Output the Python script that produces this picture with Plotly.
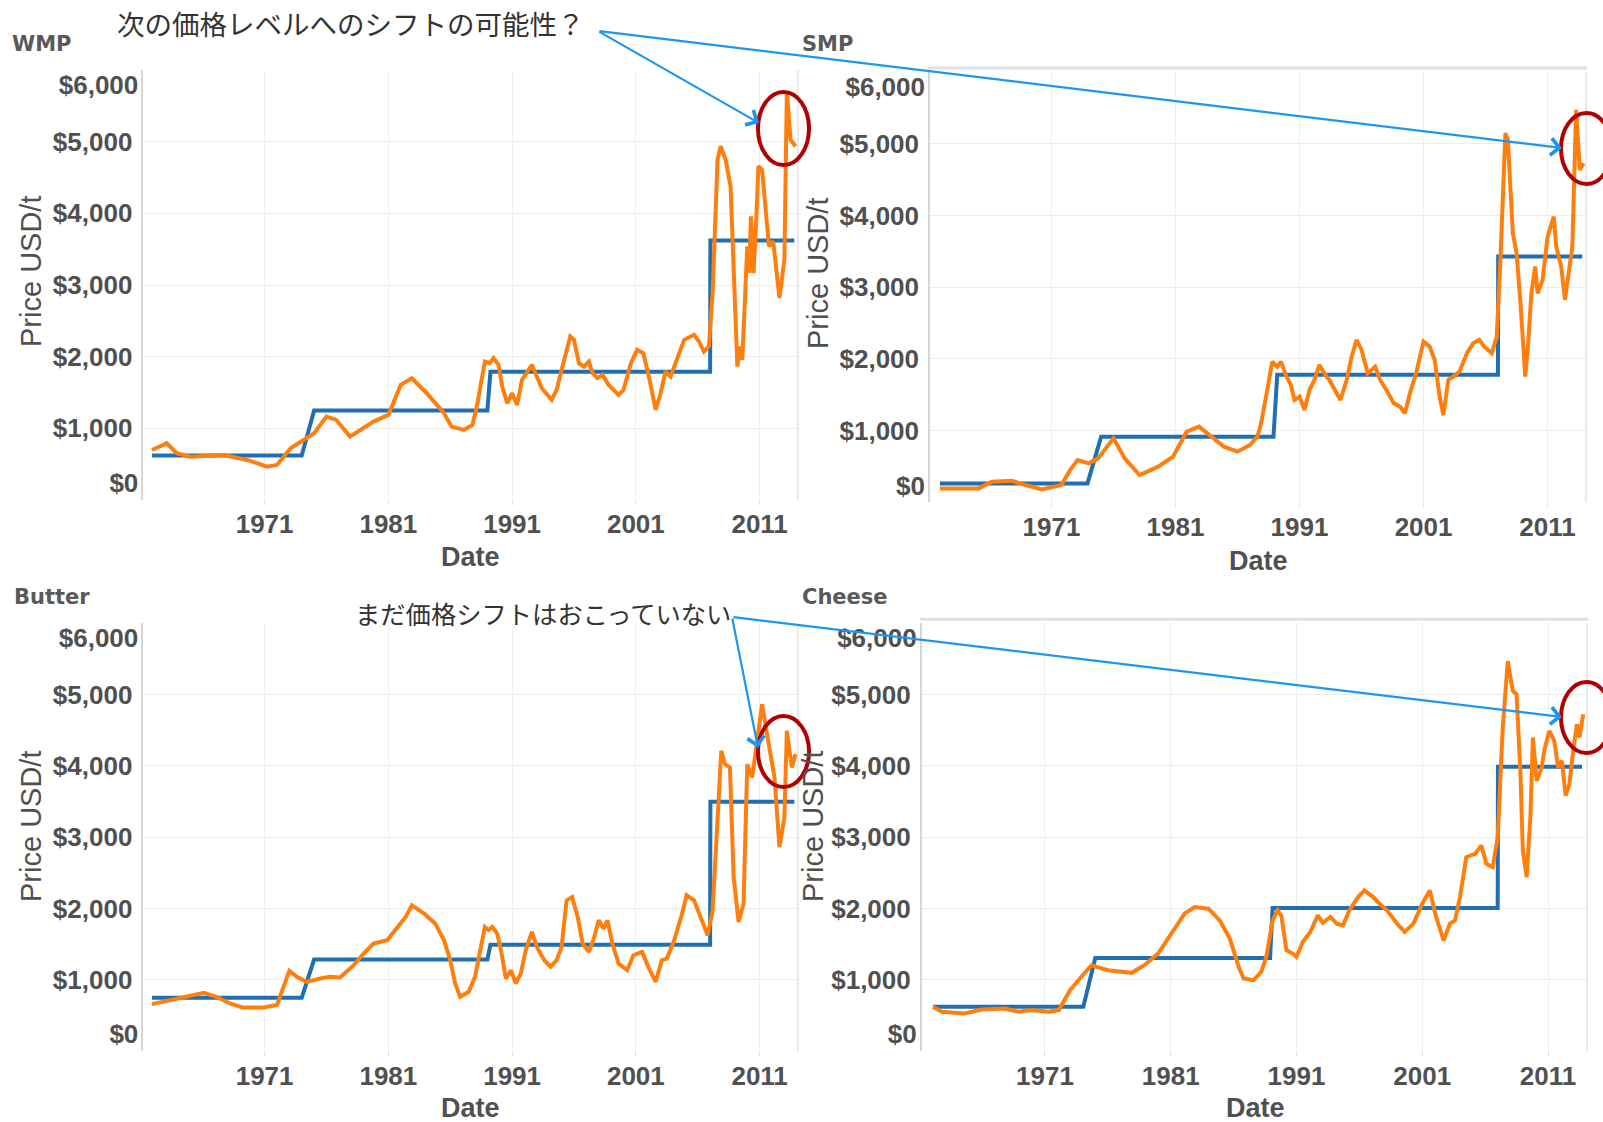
import plotly.graph_objects as go

W, H = 1603, 1122

# ---------------- data (year as decimal, price in USD/t) ----------------
wmp_years = [1961.9, 1963.1, 1963.9, 1965.0, 1967.7, 1969.6, 1971.2, 1972.0, 1973.1, 1975.0,
             1976.0, 1976.8, 1977.9, 1979.8, 1981.0, 1982.0, 1982.9, 1984.1, 1985.5, 1986.1,
             1987.1, 1987.8, 1988.2, 1988.8, 1989.2, 1989.5, 1989.9, 1990.2, 1990.6, 1991.0,
             1991.4, 1991.8, 1992.6, 1993.0, 1993.4, 1994.2, 1994.6, 1995.0, 1995.7, 1996.0,
             1996.4, 1996.8, 1997.2, 1997.5, 1997.9, 1998.3, 1998.8, 1999.6, 2000.0, 2000.6,
             2001.1, 2001.6, 2002.05, 2002.6, 2003.0, 2003.4, 2003.8, 2004.3, 2004.9, 2005.7,
             2006.1, 2006.5, 2006.9, 2007.2, 2007.6, 2007.85, 2008.25, 2008.65, 2008.9, 2009.2,
             2009.45, 2009.6, 2010.0, 2010.15, 2010.3, 2010.5, 2010.65, 2010.9, 2011.2, 2011.75,
             2012.1, 2012.6, 2013.0, 2013.2, 2013.5, 2013.9]
wmp_price = [698, 792, 652, 605, 628, 559, 466, 489, 722, 931,
             1164, 1117, 885, 1094, 1187, 1606, 1699, 1490, 1211, 1024,
             978, 1048, 1350, 1932, 1909, 1979, 1886, 1583, 1350, 1490,
             1327, 1676, 1886, 1723, 1560, 1397, 1536, 1816, 2281, 2235,
             1909, 1862, 1932, 1769, 1699, 1746, 1606, 1467, 1536, 1909,
             2095, 2049, 1723, 1257, 1490, 1793, 1723, 1955, 2235, 2305,
             2212, 2072, 2142, 2887, 4749, 4935, 4749, 4377, 3259, 1862,
             2142, 1956, 3539, 3170, 3958, 3166, 3600, 4656, 4609, 3539,
             3608, 2817, 3352, 5703, 5029, 4935]
wmp_level_years = [1961.9, 1974.0, 1975.0, 1989.0, 1989.25, 2007.0, 2007.02, 2013.8]
wmp_level = [620, 620, 1250, 1250, 1790, 1790, 3620, 3620]

smp_years = [1962.0, 1963.5, 1965.1, 1966.2, 1967.8, 1968.9, 1970.2, 1971.8, 1972.5, 1973.1,
             1974.0, 1974.75, 1976.0, 1976.9, 1978.1, 1979.6, 1980.8, 1981.9, 1982.9, 1983.9,
             1984.9, 1986.0, 1987.0, 1987.6, 1987.9, 1988.4, 1988.8, 1989.2, 1989.5, 1989.9,
             1990.3, 1990.6, 1991.0, 1991.4, 1991.8, 1992.2, 1992.6, 1993.0, 1993.4, 1994.3,
             1994.8, 1995.2, 1995.6, 1996.0, 1996.5, 1997.1, 1997.5, 1998.0, 1998.6, 1999.1,
             1999.5, 1999.9, 2000.4, 2001.0, 2001.5, 2001.9, 2002.3, 2002.6, 2003.0, 2003.4,
             2003.9, 2004.5, 2005.0, 2005.5, 2005.9, 2006.5, 2006.9, 2007.2, 2007.6, 2007.8,
             2008.2, 2008.5, 2008.8, 2009.2, 2009.4, 2009.7, 2010.0, 2010.2, 2010.6, 2011.0,
             2011.5, 2011.7, 2012.1, 2012.4, 2012.8, 2013.0, 2013.3, 2013.6, 2013.9]
smp_price = [195, 195, 195, 288, 302, 242, 181, 242, 451, 590,
             544, 614, 893, 614, 381, 498, 637, 986, 1056, 916,
             777, 707, 800, 916, 1102, 1567, 1962, 1893, 1962, 1776,
             1637, 1428, 1474, 1288, 1567, 1707, 1916, 1800, 1707, 1428,
             1707, 2032, 2265, 2125, 1800, 1893, 1707, 1567, 1381, 1335,
             1242, 1520, 1800, 2241, 2170, 1986, 1474, 1218, 1707, 1753,
             1823, 2079, 2218, 2265, 2170, 2079, 2311, 3381, 5148, 5055,
             3753, 3474, 2823, 1753, 2125, 2916, 3288, 2916, 3100, 3706,
             3985, 3567, 3288, 2823, 3381, 3567, 5473, 4636, 4729]
smp_level_years = [1962.0, 1973.9, 1975.0, 1988.9, 1989.2, 2007.0, 2007.02, 2013.8]
smp_level = [265, 265, 916, 916, 1780, 1780, 3427, 3427]

butter_years = [1961.9, 1963.1, 1964.5, 1966.1, 1967.1, 1968.2, 1969.2, 1970.9, 1972.0, 1972.5,
                1973.0, 1973.6, 1974.4, 1975.5, 1976.3, 1977.1, 1978.2, 1979.0, 1979.8, 1980.9,
                1981.7, 1982.4, 1982.9, 1983.9, 1984.8, 1985.5, 1986.0, 1986.4, 1986.8, 1987.5,
                1988.0, 1988.4, 1988.8, 1989.1, 1989.4, 1989.8, 1990.1, 1990.5, 1990.9, 1991.3,
                1991.7, 1992.1, 1992.6, 1993.0, 1993.6, 1994.1, 1994.6, 1995.0, 1995.4, 1995.85,
                1996.3, 1996.7, 1997.2, 1997.6, 1998.0, 1998.4, 1998.7, 1999.1, 1999.6, 2000.3,
                2000.8, 2001.5, 2002.0, 2002.6, 2003.1, 2003.5, 2004.1, 2004.7, 2005.1, 2005.7,
                2006.2, 2006.8, 2007.2, 2007.6, 2007.9, 2008.2, 2008.6, 2008.9, 2009.3, 2009.7,
                2010.0, 2010.4, 2010.8, 2011.2, 2011.6, 2012.2, 2012.6, 2013.0, 2013.2, 2013.6,
                2013.9]
butter_price = [662, 708, 764, 820, 764, 671, 615, 615, 648, 904,
                1128, 1044, 974, 1020, 1044, 1035, 1207, 1370, 1510, 1556,
                1720, 1883, 2046, 1929, 1789, 1556, 1277, 951, 764, 834,
                1044, 1417, 1743, 1700, 1743, 1650, 1417, 1020, 1137, 951,
                1090, 1417, 1673, 1463, 1277, 1184, 1277, 1463, 2116, 2162,
                1883, 1510, 1393, 1580, 1836, 1720, 1836, 1510, 1230, 1137,
                1347, 1393, 1184, 974, 1277, 1300, 1556, 1906, 2186, 2116,
                1883, 1626, 1976, 3374, 4213, 4026, 3980, 2442, 1813, 2069,
                4026, 3840, 4352, 4865, 4445, 3840, 2861, 3281, 4492, 3980,
                4166]
butter_level_years = [1961.9, 1974.0, 1975.0, 1989.0, 1989.25, 2007.0, 2007.02, 2013.8]
butter_level = [750, 750, 1286, 1286, 1495, 1495, 3500, 3500]

cheese_years = [1962.1, 1962.8, 1964.6, 1966.0, 1967.8, 1968.9, 1969.9, 1971.3, 1972.1, 1973.0,
                1973.9, 1974.7, 1975.1, 1976.0, 1977.9, 1978.9, 1980.0, 1981.1, 1982.1, 1982.9,
                1984.0, 1984.9, 1985.7, 1986.4, 1986.8, 1987.6, 1988.2, 1988.6, 1989.1, 1989.5,
                1989.8, 1990.2, 1990.7, 1991.0, 1991.5, 1992.1, 1992.7, 1993.1, 1993.7, 1994.2,
                1994.7, 1995.2, 1995.9, 1996.4, 1997.1, 1997.6, 1998.2, 1999.0, 1999.6, 2000.3,
                2001.0, 2001.6, 2002.1, 2002.7, 2003.2, 2003.6, 2004.0, 2004.5, 2005.2, 2005.7,
                2006.1, 2006.6, 2007.0, 2007.4, 2007.8, 2008.2, 2008.5, 2008.8, 2009.0, 2009.3,
                2009.6, 2009.8, 2010.1, 2010.5, 2010.7, 2011.1, 2011.5, 2011.8, 2012.1, 2012.4,
                2012.7, 2013.0, 2013.3, 2013.5, 2013.8]
cheese_price = [624, 555, 531, 587, 601, 555, 578, 555, 578, 857,
                1044, 1207, 1184, 1137, 1100, 1207, 1370, 1650, 1929, 2022,
                1999, 1836, 1580, 1184, 1020, 997, 1114, 1323, 1836, 1976,
                1900, 1417, 1370, 1323, 1533, 1673, 1906, 1800, 1883, 1790,
                1766, 1976, 2162, 2255, 2162, 2069, 1976, 1789, 1673, 1789,
                2069, 2255, 1883, 1556, 1789, 1836, 2162, 2721, 2768, 2884,
                2628, 2582, 3001, 4539, 5471, 5051, 5005, 3933, 2815, 2442,
                3281, 4399, 3793, 3980, 4213, 4492, 4352, 3980, 4073, 3583,
                3747, 4213, 4585, 4399, 4725]
cheese_level_years = [1962.1, 1974.05, 1975.0, 1988.9, 1989.1, 2007.0, 2007.02, 2013.7]
cheese_level = [624, 624, 1309, 1309, 2008, 2008, 3989, 3989]

panel_names = ["WMP", "SMP", "Butter", "Cheese"]
year_ticks = [1971, 1981, 1991, 2001, 2011]
year_tick_labels = ["1971", "1981", "1991", "2001", "2011"]
price_ticks = [0, 1000, 2000, 3000, 4000, 5000, 6000]
price_tick_labels = ["$0", "$1,000", "$2,000", "$3,000", "$4,000", "$5,000", "$6,000"]
y_title = "Price USD/t"
x_title = "Date"
note_shift = "次の価格レベルへのシフトの可能性？"
note_noshift = "まだ価格シフトはおこっていない"

series = [
    (wmp_years, wmp_price, wmp_level_years, wmp_level),
    (smp_years, smp_price, smp_level_years, smp_level),
    (butter_years, butter_price, butter_level_years, butter_level),
    (cheese_years, cheese_price, cheese_level_years, cheese_level),
]

# ---------------- layout geometry (pixels) ----------------
def px_x(x):
    return x / W

def px_y(y):
    return 1 - y / H

# (left, right, top, bottom) of each plot area in pixels
boxes = [
    (143.3, 798.0, 70.0, 500.0),
    (930.0, 1586.0, 72.0, 502.4),
    (143.3, 798.0, 623.3, 1051.3),
    (921.7, 1587.0, 623.3, 1051.3),
]

ORANGE = "#FF7F0E"
BLUE = "#1F6FB2"
GREY_TXT = "#505050"
TICK_FONT = dict(family="Liberation Sans, Arial, sans-serif", size=26, color=GREY_TXT, weight="bold")
Y_RANGE = [0, 6000]

fig = go.Figure()
layout = dict(
    width=W, height=H,
    margin=dict(l=0, r=0, t=0, b=0, autoexpand=False),
    paper_bgcolor="white", plot_bgcolor="white",
    showlegend=False,
    annotations=[], shapes=[],
)

# inner tick labels on the main axis; the edge labels ($0 / $6,000) sit slightly inside
inner_text = [t if 0 < v < 6000 else "" for v, t in zip(price_ticks, price_tick_labels)]

for i, ((xs, ys, lx, ly), (l, r, t, b)) in enumerate(zip(series, boxes)):
    sfx = "" if i == 0 else str(i + 1)
    xa, ya = "x" + sfx, "y" + sfx
    ya_lo, ya_hi = "y" + str(i + 5), "y" + str(i + 9)
    fig.add_trace(go.Scatter(x=lx, y=ly, mode="lines", line=dict(color=BLUE, width=4),
                             xaxis=xa, yaxis=ya, hoverinfo="skip"))
    fig.add_trace(go.Scatter(x=xs, y=ys, mode="lines", line=dict(color=ORANGE, width=4),
                             xaxis=xa, yaxis=ya, hoverinfo="skip"))
    # invisible carriers for the edge-label axes
    for yy in (ya_lo, ya_hi):
        fig.add_trace(go.Scatter(x=[xs[0]], y=[ys[0]], mode="lines", opacity=0,
                                 xaxis=xa, yaxis=yy, hoverinfo="skip"))
    layout["xaxis" + sfx] = dict(
        domain=[px_x(l), px_x(r)], anchor=ya, range=[1961.2, 2014.1],
        tickvals=year_ticks, ticktext=year_tick_labels, tickfont=TICK_FONT,
        showgrid=True, gridcolor="#efefef", gridwidth=1, zeroline=False,
        showline=False, ticks="outside", ticklen=4, tickcolor="#dddddd",
        ticklabelstandoff=-3, automargin=False,
    )
    layout["yaxis" + sfx] = dict(
        domain=[px_y(b), px_y(t)], anchor=xa, range=Y_RANGE,
        tickvals=price_ticks, ticktext=inner_text, tickfont=TICK_FONT,
        showgrid=True, gridcolor="#ececec", gridwidth=1, zeroline=False,
        showline=True, linecolor="#d6d6d6", linewidth=1.5, ticks="", ticklabelstandoff=4,
        automargin=False,
    )
    edge_common = dict(anchor=xa, overlaying=ya, side="left", range=Y_RANGE,
                       tickfont=TICK_FONT, showgrid=False, zeroline=False, showline=False,
                       ticks="", ticklabelstandoff=4, automargin=False)
    layout["yaxis" + str(i + 5)] = dict(edge_common, tickvals=[price_ticks[0]],
                                        ticktext=[price_tick_labels[0]], ticklabelshift=-17)
    layout["yaxis" + str(i + 9)] = dict(edge_common, tickvals=[price_ticks[-1]],
                                        ticktext=[price_tick_labels[-1]], ticklabelshift=15)
    # right border of the pane
    layout["shapes"].append(dict(type="line", xref="paper", yref="paper",
                                 x0=px_x(r), x1=px_x(r), y0=px_y(b), y1=px_y(t),
                                 line=dict(color="#e2e2e2", width=1.5)))

# top pane borders on the right-hand panels
for (l, r, t, b) in (boxes[1], boxes[3]):
    layout["shapes"].append(dict(type="line", xref="paper", yref="paper",
                                 x0=px_x(l - 2), x1=px_x(r + 1), y0=px_y(t - 4), y1=px_y(t - 4),
                                 line=dict(color="#e0e0e0", width=3)))

# panel titles
title_pos = [(10, 44), (800, 44), (12, 597), (800, 597)]
for name, (x, y) in zip(panel_names, title_pos):
    layout["annotations"].append(dict(
        text=name, xref="paper", yref="paper", x=px_x(x), y=px_y(y),
        xanchor="left", yanchor="middle", showarrow=False,
        font=dict(family="DejaVu Sans, sans-serif", size=21, color="#595959", weight="bold")))

# axis titles
ytitle_pos = [(31, 272), (818, 274), (31, 827), (813, 827)]
for (x, y) in ytitle_pos:
    layout["annotations"].append(dict(
        text=y_title, xref="paper", yref="paper", x=px_x(x), y=px_y(y),
        xanchor="center", yanchor="middle", textangle=-90, showarrow=False,
        font=dict(family="Liberation Sans, Arial, sans-serif", size=29, color=GREY_TXT)))
xtitle_pos = [(470, 557), (1258, 561), (470, 1108), (1255, 1108)]
for (x, y) in xtitle_pos:
    layout["annotations"].append(dict(
        text=x_title, xref="paper", yref="paper", x=px_x(x), y=px_y(y),
        xanchor="center", yanchor="middle", showarrow=False,
        font=dict(family="Liberation Sans, Arial, sans-serif", size=27, color=GREY_TXT, weight="bold")))

# Japanese notes
JP_FONT = "Noto Sans CJK JP, sans-serif"
layout["annotations"].append(dict(
    text=note_shift, xref="paper", yref="paper", x=px_x(351), y=px_y(23),
    xanchor="center", yanchor="middle", showarrow=False,
    font=dict(family=JP_FONT, size=27.5, color="#333333")))
layout["annotations"].append(dict(
    text=note_noshift, xref="paper", yref="paper", x=px_x(543), y=px_y(613),
    xanchor="center", yanchor="middle", showarrow=False,
    font=dict(family=JP_FONT, size=25.3, color="#333333")))

# arrows (start -> tip, pixels)
ARROW = "#1E96F0"
arrows = [((598, 31), (759, 123)), ((598, 31), (1562, 148)),
          ((732, 617), (758, 748)), ((732, 617), (1562, 717))]
for (sx, sy), (tx, ty) in arrows:
    layout["annotations"].append(dict(
        text="", xref="paper", yref="paper", x=px_x(tx), y=px_y(ty),
        ax=sx - tx, ay=sy - ty, axref="pixel", ayref="pixel",
        showarrow=True, arrowhead=4, arrowsize=1.5, arrowwidth=2.2, arrowcolor=ARROW,
        standoff=0, startstandoff=0))

# red ellipses
ellipses = [(758, 809, 92, 165), (1561, 1612, 113, 184), (758, 809, 716, 787), (1561, 1612, 682, 753)]
for (x0, x1, y0, y1) in ellipses:
    layout["shapes"].append(dict(type="circle", xref="paper", yref="paper",
                                 x0=px_x(x0), x1=px_x(x1), y0=px_y(y1), y1=px_y(y0),
                                 line=dict(color="#B00000", width=4)))

fig.update_layout(**layout)
fig.write_html("out.html", config={"displayModeBar": False},
               post_script="document.body.style.margin='0';")
